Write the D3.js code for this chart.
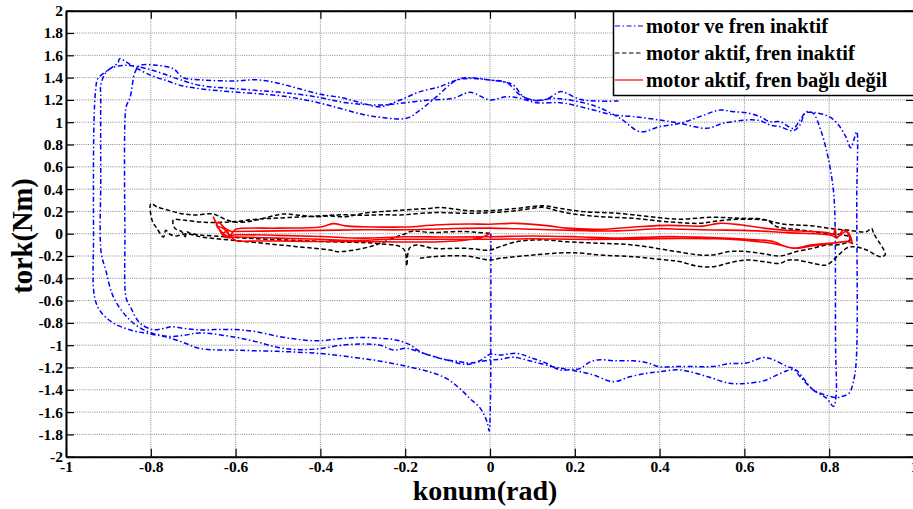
<!DOCTYPE html>
<html><head><meta charset="utf-8">
<script src="https://cdn.jsdelivr.net/npm/d3@7"></script>
<style>body{margin:0;background:#fff}text{font-family:"Liberation Serif","Times New Roman",serif;font-weight:bold}</style>
</head><body><svg id="c" width="913" height="509"></svg>
<script>
const xTicks=[-1,-0.8,-0.6,-0.4,-0.2,0,0.2,0.4,0.6,0.8,1];
const yTicks=[-2,-1.8,-1.6,-1.4,-1.2,-1,-0.8,-0.6,-0.4,-0.2,0,0.2,0.4,0.6,0.8,1,1.2,1.4,1.6,1.8,2];
const seriesNames=["motor ve fren inaktif","motor aktif, fren inaktif","motor aktif, fren bağlı değil"];

const blue=[
[0.002,0.0],[0.002,-0.8],[0.001,-1.5],[-0.002,-1.77],
[-0.006,-1.70],[-0.012,-1.64],[-0.024,-1.56],[-0.047,-1.48],[-0.071,-1.39],[-0.102,-1.30],[-0.142,-1.24],[-0.196,-1.19],[-0.259,-1.143],[-0.32,-1.11],[-0.4,-1.075],[-0.5,-1.055],[-0.6,-1.045],[-0.684,-1.03],[-0.72,-0.98],[-0.76,-0.93],[-0.8,-0.9],[-0.842,-0.87],[-0.889,-0.80],[-0.92,-0.69],[-0.933,-0.56],[-0.935,0.0],[-0.934,1.0],[-0.93,1.29],[-0.925,1.39],[-0.90,1.47],[-0.878,1.53],[-0.873,1.57],[-0.85,1.52],[-0.8,1.42],[-0.76,1.37],[-0.73,1.33],[-0.684,1.30],[-0.6,1.27],[-0.5,1.24],[-0.45,1.21],[-0.4,1.17],[-0.35,1.12],[-0.3,1.07],
[-0.259,1.044],[-0.197,1.035],[-0.165,1.109],[-0.126,1.229],[-0.079,1.378],[-0.047,1.399],[0,1.378],[0.031,1.363],[0.055,1.334],[0.079,1.229],[0.110,1.193],[0.149,1.214],[0.197,1.193],[0.252,1.139],[0.307,1.035],[0.354,0.915],[0.40,0.96],
[0.448,0.99],[0.495,1.05],[0.5425,1.109],[0.574,1.094],[0.605,1.085],[0.637,1.05],[0.66,1.005],[0.684,1.005],[0.715,0.945],[0.731,1.02],[0.747,1.094],[0.762,1.08],[0.78,0.93],[0.797,0.69],[0.809,0.42],[0.813,0.21],[0.815,-1.0],[0.816,-1.46],[0.81,-1.55],
[0.794,-1.476],[0.762,-1.40],[0.731,-1.28],[0.715,-1.21],[0.70,-1.19],[0.668,-1.13],[0.645,-1.11],[0.605,-1.16],[0.566,-1.165],[0.527,-1.19],[0.448,-1.19],[0.40,-1.193],[0.37,-1.157],[0.338,-1.14],[0.291,-1.14],[0.259,-1.13],[0.236,-1.15],[0.212,-1.21],[0.197,-1.216],[0.165,-1.222],[0.134,-1.163],[0.094,-1.109],[0.063,-1.073],[0.024,-1.088],[0,-1.082],[-0.024,-1.139],[-0.055,-1.172],[-0.102,-1.133],[-0.157,-1.073],[-0.196,-1.028],[-0.228,-1.043],[-0.259,-1.0],[-0.3,-0.99],[-0.35,-1.0],[-0.4,-1.03],[-0.45,-1.04],[-0.5,-1.02],[-0.55,-0.97],[-0.6,-0.93],[-0.684,-0.89],[-0.72,-0.91],[-0.762,-0.92],[-0.818,-0.86],[-0.858,-0.74],[-0.889,-0.56],[-0.906,-0.33],[-0.917,-0.17],[-0.918,0.5],[-0.918,1.2],[-0.917,1.35],[-0.9,1.47],[-0.86,1.51],[-0.8,1.47],[-0.76,1.42],[-0.73,1.38],[-0.684,1.33],[-0.6,1.30],[-0.5,1.27],[-0.45,1.25],[-0.4,1.22],[-0.35,1.18],[-0.3,1.16],
[-0.259,1.154],[-0.212,1.169],[-0.142,1.199],[-0.087,1.214],[-0.047,1.268],[0,1.199],[0.039,1.229],[0.071,1.214],[0.110,1.175],[0.165,1.175],[0.197,1.154],[0.244,1.109],[0.291,1.065],[0.338,1.05],[0.40,1.02],[0.448,0.99],[0.511,0.945],[0.55,0.99],[0.605,1.02],[0.637,1.014],[0.66,0.975],[0.684,0.96],[0.715,0.924],[0.731,0.975],[0.743,1.08],[0.755,1.09],[0.80,1.05],[0.823,0.97],[0.839,0.87],[0.851,0.77],[0.858,0.84],[0.865,0.915],[0.865,0.3],[0.864,-1.13],[0.858,-1.31],[0.847,-1.43],[0.83,-1.46],[0.82,-1.47],
[0.794,-1.45],[0.762,-1.40],[0.74,-1.30],[0.72,-1.22],[0.70,-1.23],[0.67,-1.28],[0.645,-1.32],[0.605,-1.342],[0.566,-1.342],[0.511,-1.28],[0.448,-1.222],[0.40,-1.238],[0.37,-1.252],[0.33,-1.283],[0.291,-1.327],[0.244,-1.267],[0.212,-1.238],[0.181,-1.216],[0.149,-1.193],[0.102,-1.148],[0.055,-1.109],[0.024,-1.127],[0,-1.133],[-0.047,-1.16],[-0.071,-1.148],[-0.118,-1.118],[-0.165,-1.058],[-0.188,-0.998],[-0.212,-0.962],[-0.236,-0.944],[-0.259,-0.938],[-0.3,-0.93],[-0.35,-0.94],[-0.4,-0.96],[-0.45,-0.95],[-0.5,-0.92],[-0.55,-0.88],[-0.6,-0.86],[-0.65,-0.86],[-0.684,-0.864],[-0.72,-0.85],[-0.751,-0.835],[-0.77,-0.85],[-0.795,-0.86],[-0.826,-0.8],[-0.849,-0.65],[-0.858,-0.58],[-0.861,0.0],[-0.861,1.0],[-0.858,1.14],[-0.849,1.22],[-0.837,1.45],[-0.825,1.51],[-0.786,1.51],[-0.747,1.48],[-0.724,1.40],[-0.684,1.38],[-0.6,1.37],[-0.55,1.38],[-0.5,1.35],[-0.45,1.3],[-0.4,1.25],[-0.35,1.22],[-0.3,1.17],
[-0.259,1.139],[-0.212,1.199],[-0.165,1.274],[-0.118,1.319],[-0.079,1.378],[-0.047,1.393],[0,1.378],[0.039,1.355],[0.071,1.244],[0.102,1.199],[0.134,1.208],[0.165,1.274],[0.181,1.259],[0.212,1.205],[0.252,1.19],[0.303,1.19]
];

const black=[
[0.0,0.004],[-0.03,0.012],[-0.06,0.02],[-0.1,0.016],[-0.14,0.01],[-0.17,0.022],[-0.19,0.018],[-0.2,0.0],[-0.22,-0.027],[-0.259,-0.086],[-0.299,-0.131],[-0.36,-0.161],[-0.377,-0.146],[-0.456,-0.116],[-0.535,-0.086],[-0.613,-0.057],[-0.68,-0.03],[-0.715,0.0],[-0.74,-0.02],[-0.755,-0.005],[-0.765,0.03],[-0.77,-0.03],[-0.786,0.05],[-0.797,0.12],[-0.8,0.27],
[-0.786,0.242],[-0.755,0.207],[-0.723,0.177],[-0.692,0.168],[-0.653,0.177],[-0.621,0.123],[-0.597,0.102],[-0.558,0.117],[-0.519,0.153],[-0.487,0.177],[-0.456,0.168],[-0.409,0.153],[-0.377,0.159],[-0.338,0.153],[-0.299,0.183],[-0.259,0.198],[-0.22,0.207],[-0.181,0.219],[-0.142,0.227],[-0.118,0.236],[-0.055,0.207],[0,0.207],[0.063,0.227],[0.126,0.251],[0.165,0.227],[0.22,0.198],[0.299,0.183],[0.377,0.153],[0.448,0.13],[0.519,0.147],[0.59,0.138],[0.652,0.123],[0.676,0.063],[0.72,0.04],[0.76,0.02],[0.80,0.0],[0.83,-0.01],[0.85,-0.03],[0.845,-0.07],[0.82,-0.1],[0.794,-0.1],[0.762,-0.13],[0.723,-0.16],[0.684,-0.2],[0.645,-0.18],[0.605,-0.16],[0.566,-0.16],[0.527,-0.19],[0.495,-0.191],[0.417,-0.146],[0.338,-0.101],[0.259,-0.086],[0.18,-0.072],[0.14,-0.057],[0.102,-0.057],[0.063,-0.072],[0.024,-0.116],[0,-0.146],[-0.055,-0.131],[-0.134,-0.131],[-0.173,-0.101],[-0.19,-0.13],[-0.1965,-0.29],[-0.2,-0.16],[-0.212,-0.116],[-0.26,-0.09],[-0.3,-0.08],[-0.35,-0.075],[-0.4,-0.07],[-0.45,-0.06],[-0.5,-0.055],[-0.55,-0.045],[-0.6,-0.035],[-0.65,-0.02],[-0.684,-0.012],[-0.708,0.004],[-0.715,0.018],[-0.719,-0.027],[-0.727,0.018],[-0.743,0.048],[-0.747,0.123],[-0.72,0.12],[-0.684,0.105],[-0.65,0.1],[-0.6,0.11],[-0.55,0.13],[-0.5,0.14],[-0.45,0.15],[-0.4,0.16],[-0.35,0.17],[-0.3,0.165],[-0.25,0.17],[-0.212,0.168],[-0.134,0.189],[-0.055,0.183],[0,0.189],[0.063,0.207],[0.126,0.236],[0.157,0.207],[0.197,0.177],[0.259,0.153],[0.338,0.138],[0.417,0.108],[0.495,0.093],[0.527,0.11],[0.566,0.125],[0.605,0.13],[0.652,0.12],[0.684,0.09],[0.723,0.078],[0.7625,0.07],[0.8,0.048],[0.841,0.033],[0.888,0.018],[0.9,0.048],[0.905,0.0],[0.915,-0.06],[0.928,-0.14],[0.932,-0.19],[0.92,-0.206],[0.888,-0.146],[0.857,-0.116],[0.841,-0.13],[0.818,-0.206],[0.794,-0.281],[0.7625,-0.266],[0.723,-0.236],[0.7,-0.24],[0.684,-0.266],[0.645,-0.25],[0.605,-0.236],[0.566,-0.26],[0.527,-0.296],[0.487,-0.29],[0.448,-0.25],[0.417,-0.236],[0.338,-0.206],[0.259,-0.191],[0.22,-0.176],[0.181,-0.17],[0.102,-0.191],[0.024,-0.221],[0.0,-0.236],[-0.055,-0.2],[-0.134,-0.206],[-0.165,-0.221]
];

const red=[
[-0.653,0.153],[-0.645,0.09],[-0.637,0.03],[-0.63,0.0],[-0.62,0.03],[-0.615,-0.02],[-0.605,0.02],[-0.6,0.04],
[-0.5,0.05],[-0.4,0.06],[-0.37,0.09],[-0.34,0.07],[-0.3,0.063],[-0.2,0.06],[-0.13,0.078],[-0.05,0.087],[0,0.085],[0.06,0.093],[0.14,0.07],[0.18,0.05],[0.26,0.04],[0.34,0.06],[0.42,0.075],[0.5,0.068],[0.54,0.093],[0.59,0.08],[0.645,0.05],[0.7,0.03],[0.76,0.02],[0.794,0.01],[0.81,0.0],[0.814,0.05],[0.818,-0.04],[0.833,0.03],[0.845,0.01],[0.853,-0.08],[0.841,-0.07],
[0.8,-0.09],[0.76,-0.11],[0.723,-0.13],[0.7,-0.12],[0.668,-0.07],[0.605,-0.05],[0.527,-0.035],[0.448,-0.027],[0.4,-0.027],[0.3,-0.04],[0.2,-0.027],[0.1,-0.02],[0,-0.027],[-0.1,-0.03],[-0.2,-0.027],[-0.3,-0.04],[-0.4,-0.025],[-0.5,-0.015],[-0.6,-0.01],
[-0.62,-0.02],[-0.645,0.08],[-0.64,0.1],[-0.625,0.05],[-0.61,0.02],[-0.6,0.02],
[-0.5,0.025],[-0.4,0.03],[-0.3,0.035],[-0.2,0.035],[-0.1,0.045],[0,0.05],[0.1,0.04],[0.2,0.03],[0.3,0.025],[0.4,0.045],[0.45,0.04],[0.527,0.033],[0.6,0.03],[0.7,0.01],[0.8,-0.01],[0.818,-0.03],[0.84,0.02],[0.85,-0.05],[0.855,-0.09],[0.845,-0.07],
[0.82,-0.08],[0.76,-0.1],[0.715,-0.13],[0.684,-0.1],[0.605,-0.06],[0.527,-0.045],[0.448,-0.042],[0.3,-0.05],[0.2,-0.05],[0.1,-0.045],[0,-0.05],[-0.1,-0.05],[-0.2,-0.05],[-0.24,-0.05],[-0.3,-0.06],[-0.35,-0.06],[-0.4,-0.05],[-0.5,-0.04],[-0.6,-0.03],
[-0.625,-0.03],[-0.64,0.06],[-0.63,0.05],[-0.615,-0.01],[-0.6,-0.06],
[-0.55,-0.065],[-0.5,-0.065],[-0.4,-0.07],[-0.3,-0.07],[-0.2,-0.075],[-0.118,-0.072],[-0.055,-0.057],[-0.016,-0.027],[0.0,0.004]
];

const W=913,H=509;
const FONT='"Liberation Serif","Times New Roman",serif';
const svg=d3.select("#c");
const x=d3.scaleLinear().domain([-1,1]).range([66,914]);
const y=d3.scaleLinear().domain([-2,2]).range([456.7,10.7]);

svg.append("rect").attr("width",W).attr("height",H).attr("fill","#fff");

// grid
const grid=svg.append("g").attr("stroke","#8a8a8a").attr("stroke-width",1).attr("stroke-dasharray","1,1.2");
grid.selectAll(".gx").data(xTicks).join("line")
  .attr("x1",d=>x(d)).attr("x2",d=>x(d)).attr("y1",y(2)).attr("y2",y(-2));
grid.selectAll(".gy").data(yTicks).join("line")
  .attr("y1",d=>y(d)).attr("y2",d=>y(d)).attr("x1",x(-1)).attr("x2",x(1));

// series
const line=d3.line().x(d=>x(d[0])).y(d=>y(d[1])).curve(d3.curveCatmullRom.alpha(0.5));
const styles=[
 {data:blue,color:"#0000ff",dash:"5,2.5,1.5,2.5",w:1.5},
 {data:black,color:"#000000",dash:"4.5,2.5",w:1.5},
 {data:red,color:"#ff0000",dash:null,w:1.6}
];
styles.forEach(s=>{
  svg.append("path").datum(s.data).attr("d",line).attr("fill","none")
   .attr("stroke",s.color).attr("stroke-width",s.w).attr("stroke-dasharray",s.dash)
   .attr("stroke-linejoin","round");
});

// axes
function styleAxis(g){g.attr("font-family",null).attr("font-size",null);
  g.selectAll("path.domain").attr("stroke","#000").attr("stroke-width",2);
  g.selectAll(".tick line").attr("stroke","#000").attr("stroke-width",1.2);}
const ax=svg.append("g").attr("transform",`translate(0,${y(-2)})`)
  .call(d3.axisBottom(x).tickValues(xTicks).tickSize(-8).tickSizeOuter(0).tickFormat(d=>String(d)));
ax.call(styleAxis);
ax.selectAll("text").attr("dy",null).attr("y",15.5).attr("fill","#000");
const axT=svg.append("g").attr("transform",`translate(0,${y(2)})`)
  .call(d3.axisTop(x).tickValues(xTicks).tickSize(-8).tickSizeOuter(0).tickFormat(""));
axT.call(styleAxis);
const ay=svg.append("g").attr("transform",`translate(${x(-1)},0)`)
  .call(d3.axisLeft(y).tickValues(yTicks).tickSize(-8).tickSizeOuter(0).tickFormat(d=>String(d)));
ay.call(styleAxis);
ay.selectAll("text").attr("x",-3).attr("fill","#000");
const ayR=svg.append("g").attr("transform",`translate(${x(1)},0)`)
  .call(d3.axisRight(y).tickValues(yTicks).tickSize(-8).tickSizeOuter(0).tickFormat(""));
ayR.call(styleAxis);
svg.selectAll(".tick text").style("font-family",FONT).style("font-weight","bold").style("font-size","15.5px");

// axis titles
svg.append("text").attr("x",485).attr("y",500).attr("text-anchor","middle")
  .style("font-family",FONT).style("font-size","28px").attr("fill","#000").text("konum(rad)");
svg.append("text").attr("transform","translate(32,236) rotate(-90)").attr("text-anchor","middle")
  .style("font-family",FONT).style("font-size","28.5px").attr("fill","#000").text("tork(Nm)");

// legend
const lg=svg.append("g");
lg.append("rect").attr("x",613.5).attr("y",11.5).attr("width",320).attr("height",84)
  .attr("fill","#fff").attr("stroke","#000").attr("stroke-width",1.5);
const rowsY=[26,53,80];
styles.forEach((s,i)=>{
  lg.append("line").attr("x1",615).attr("x2",643).attr("y1",rowsY[i]).attr("y2",rowsY[i])
    .attr("stroke",s.color).attr("stroke-width",1.2).attr("stroke-dasharray",s.dash);
  lg.append("text").attr("x",646).attr("y",rowsY[i]+7).style("font-family",FONT).style("font-size","20.5px")
    .attr("fill","#000").text(seriesNames[i]);
});
</script></body></html>
